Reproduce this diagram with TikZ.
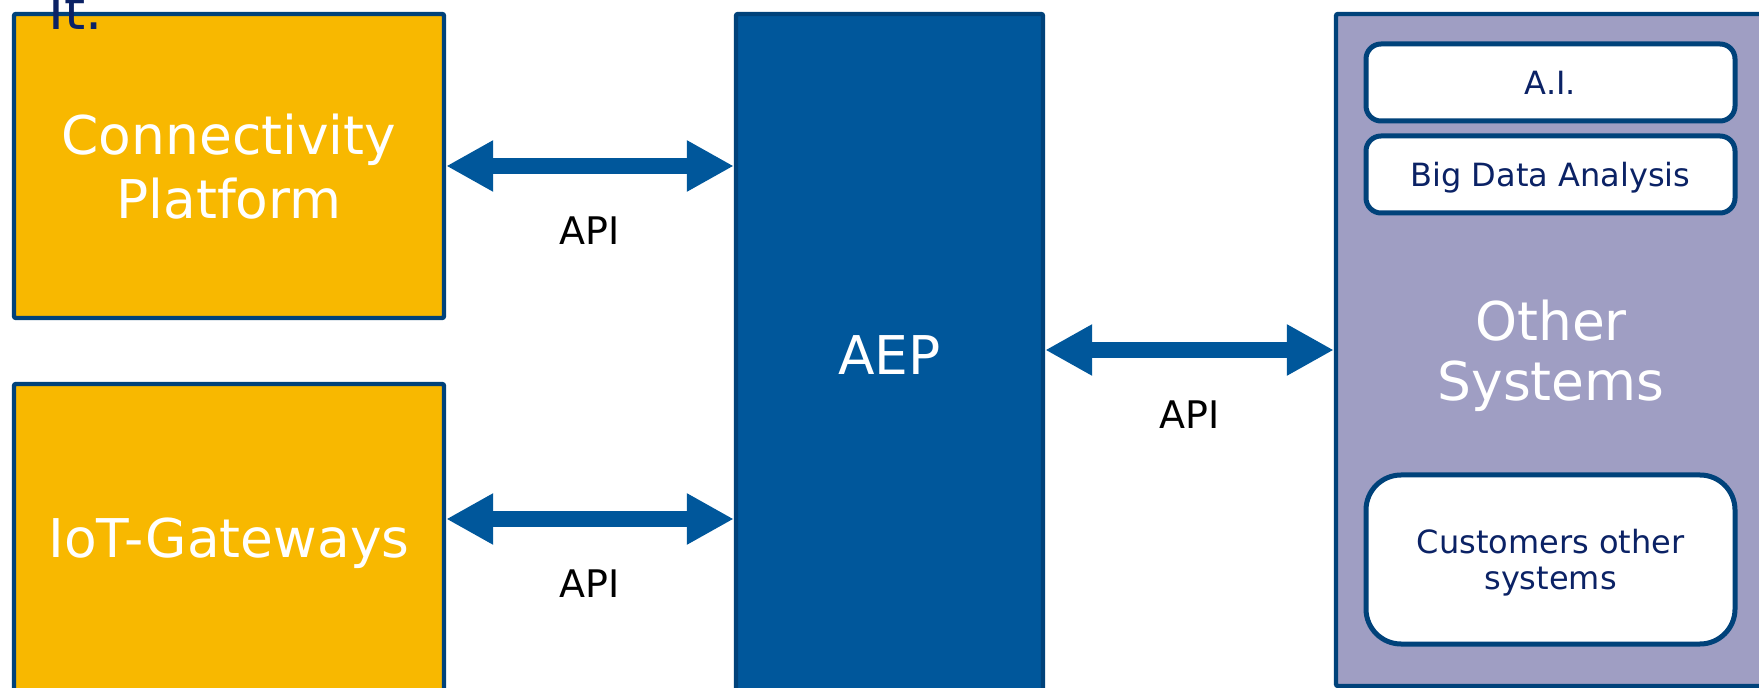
\documentclass[tikz,border=0pt]{standalone}
\usepackage{fontspec}
\setmainfont{DejaVu Sans}
\usepackage{xcolor}
\usepackage{tikz}
\usetikzlibrary{arrows.meta,shapes}

\definecolor{edgeblue}{HTML}{00427A}
\definecolor{gold}{HTML}{F8B800}
\definecolor{aepblue}{HTML}{00579B}
\definecolor{lilac}{HTML}{9F9EC3}
\definecolor{navy}{HTML}{0B2265}

\begin{document}
\begin{tikzpicture}[x=0.5pt, y=-0.5pt, >={Triangle[length=23.5pt,width=24pt]},
  block/.style={draw=edgeblue, line width=2.2pt, rounded corners=1pt, text=white, inner sep=0pt,
    text depth=0pt, align=center, font=\fontsize{26.7}{32}\selectfont},
  sub/.style={draw=edgeblue, line width=2.5pt, fill=white, text=navy, rounded corners=7.5pt,
    minimum width=184.5pt, minimum height=38.5pt, text depth=0pt, align=center,
    font=\fontsize{16}{18}\selectfont},
  api/.style={<->, line width=8pt, draw=aepblue}]
\useasboundingbox (0,0) rectangle (1759,688);

\node[block, fill=gold, minimum width=215pt, minimum height=152pt] (conn) at (229,166) {Connectivity\\Platform};
\node[block, fill=gold, minimum width=215pt, minimum height=154pt] (iot) [below of=conn, node distance=186pt] {IoT-Gateways};
\node[block, fill=aepblue, minimum width=153.5pt, minimum height=341pt] (aep) at (889.5,355) {AEP};
\node[block, fill=lilac, minimum width=215pt, minimum height=336pt, font=\fontsize{26.7}{30}\selectfont] (other) at (1551,350) {Other\\Systems};

\node[sub] (ai) at (1550.5,82.5) {A.I.};
\node[sub] (bigdata) [below of=ai, node distance=46pt] {Big Data Analysis};
\node[sub, rounded corners=17.5pt, minimum height=84.5pt] (customers) [below of=bigdata, node distance=192.5pt] {Customers other\\systems};

\node[anchor=base west, inner sep=0pt, text=navy, font=\fontsize{27}{32}\selectfont] (it) at (48,30) {It.};

\coordinate (iotport) at ([yshift=9.5pt]iot.east);

\tikzstyle{every node}=[font=\fontsize{19}{22}\selectfont, text=black, yshift=-32.25pt]
\path
(conn.east) edge[api] node {API} (aep.west |- conn.east)
(iotport) edge[api] node {API} (aep.west |- iotport)
(aep.east |- other.west) edge[api] node {API} (other.west);
\end{tikzpicture}
\end{document}
